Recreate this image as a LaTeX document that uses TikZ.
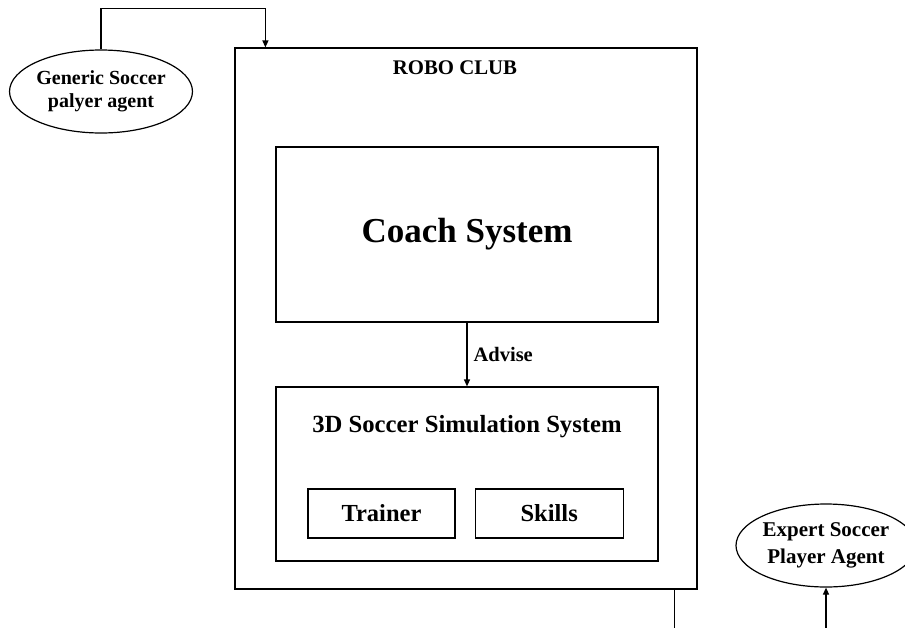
\documentclass[tikz,border=0pt]{standalone}
\usepackage{fontspec}
\setmainfont{Liberation Serif}
\usetikzlibrary{positioning,arrows.meta,shapes.geometric}

\begin{document}
\begin{tikzpicture}[
  x=1pt, y=-1pt,
  font=\bfseries,
  frame/.style ={draw, line width=1.2pt, inner sep=0pt},
  unit/.style  ={frame, minimum width=147pt, minimum height=49pt, font=\fontsize{24.5}{28}\selectfont\bfseries},
  agent/.style ={ellipse, draw, line width=1.2pt, inner sep=0pt, align=center},
  link/.style  ={-{Triangle[length=7pt,width=6pt]}, line width=1.2pt},
  lbl/.style   ={font=\fontsize{20.5}{24}\selectfont\bfseries, inner sep=1pt},
]
\useasboundingbox (0,0) rectangle (905,627);

% ==================== Club and its systems ====================
\node[frame, minimum width=462pt, minimum height=541pt] (club) at (466,318.5) {};
\node[lbl, font=\fontsize{20.8}{24}\selectfont\bfseries] (clubname) at ([xshift=-11pt,yshift=-20pt]club.north) {ROBO CLUB};

\node[frame, minimum width=382pt, minimum height=175pt, font=\fontsize{35}{40}\selectfont\bfseries] (coach) at (467,234.5) {Coach System};

\node[frame, minimum width=382pt, minimum height=174pt] (sim) at (467,474) {};
\node[font=\fontsize{24.7}{28}\selectfont\bfseries] (simname) at ([yshift=-40pt]sim.north) {3D Soccer Simulation System};

\node[unit] (trainer) at (381.5,513.5) {Trainer};
\node[unit, minimum width=148pt, right=19pt of trainer] (skills) {Skills};

% ==================== Agents ====================
\node[agent, minimum width=178pt, minimum height=83pt, font=\fontsize{20}{23}\selectfont\bfseries] (generic) at (101,91.5) {Generic Soccer\\palyer agent};
\node[agent, minimum width=180pt, minimum height=83pt, font=\fontsize{21}{27}\selectfont\bfseries] (expert) at (826,545.5) {Expert Soccer\\Player Agent};

% ==================== Arrows ====================
\draw[link] (coach.south) -- (sim.north) node[lbl, midway, right=5pt] (advise) {Advise};

\coordinate (intop) at ([xshift=31pt]club.north west);
\draw[link] (generic.north) -- ++(0,-41) -| (intop);

\coordinate (outbot) at ([xshift=-23pt]club.south east);
\draw[link] (outbot) -- ++(0,42) -| (expert.south);

\end{tikzpicture}
\end{document}
